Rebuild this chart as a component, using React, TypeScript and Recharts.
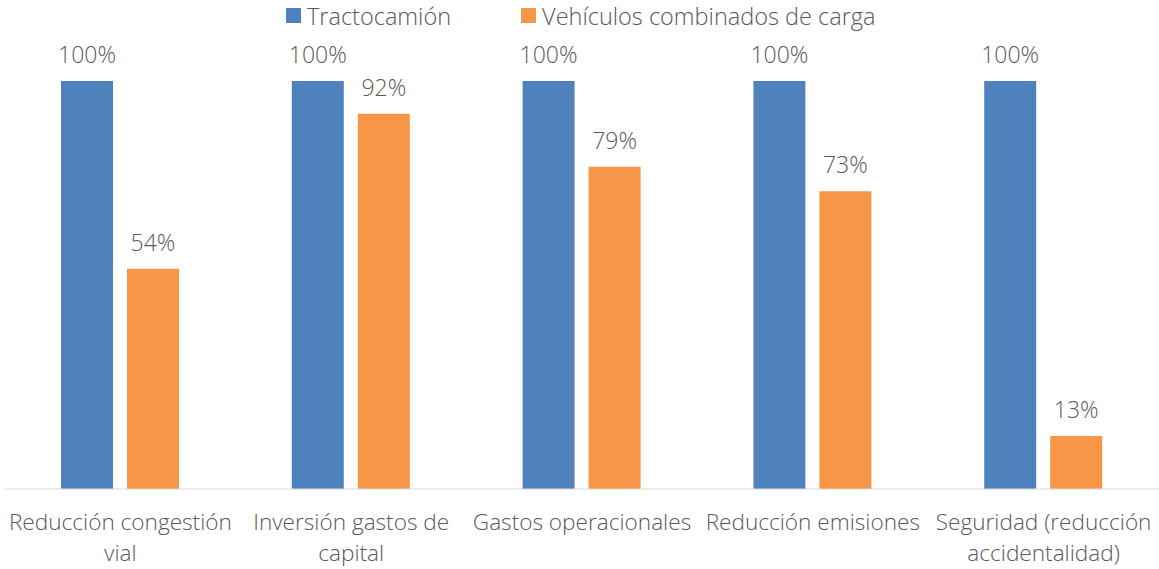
import { BarChart, Bar, XAxis, YAxis, LabelList } from 'recharts';

const categories = [
  'Reducción congestión vial',
  'Inversión gastos de capital',
  'Gastos operacionales',
  'Reducción emisiones',
  'Seguridad (reducción accidentalidad)',
];

// how each category label wraps under the axis
const tickLines = [
  ['Reducción congestión', 'vial'],
  ['Inversión gastos de', 'capital'],
  ['Gastos operacionales'],
  ['Reducción emisiones'],
  ['Seguridad (reducción', 'accidentalidad)'],
];

const tractocamion = [1, 1, 1, 1, 1];
const combinados = [0.54, 0.92, 0.79, 0.73, 0.13];

const seriesNames = ['Tractocamión', 'Vehículos combinados de carga'];
const seriesColors = ['#4F81BD', '#F79646'];

const data = categories.map((name, i) => ({
  name,
  tracto: tractocamion[i],
  vcc: combinados[i],
}));

const FONT = "'Open Sans', Lato, sans-serif";
const TEXT = '#595959';

function pct(v: number) {
  return `${Math.round(v * 100)}%`;
}

function CategoryTick(props: any) {
  const { x, y, payload } = props;
  const lines = tickLines[payload.index] ?? [payload.value];
  return (
    <text
      x={x}
      y={y}
      textAnchor="middle"
      fill={TEXT}
      fontSize={22.6}
      fontWeight={300}
      fontFamily={FONT}
    >
      {lines.map((line, i) => (
        <tspan key={i} x={x} dy={i === 0 ? 41 : 31}>
          {line}
        </tspan>
      ))}
    </text>
  );
}

export default function App() {
  return (
    <div style={{ position: 'absolute', left: 0, top: 0, width: 1159, height: 569, background: '#fff' }}>
      <div
        style={{
          position: 'absolute',
          top: 0,
          left: 286,
          display: 'flex',
          alignItems: 'center',
          height: 31,
          fontFamily: FONT,
          fontWeight: 300,
          fontSize: 23.5,
          color: TEXT,
        }}
      >
        {seriesNames.map((s, i) => (
          <div key={s} style={{ display: 'flex', alignItems: 'center', marginRight: i === 0 ? 70 : 0 }}>
            <span style={{ width: 15, height: 15, background: seriesColors[i], marginRight: 6, display: 'inline-block' }} />
            <span>{s}</span>
          </div>
        ))}
      </div>
      <BarChart
        width={1159}
        height={569}
        data={data}
        margin={{ top: 81, right: 0, left: 5, bottom: 0 }}
        barSize={52}
        barGap={14}
      >
        <XAxis
          dataKey="name"
          height={80}
          stroke="#D9D9D9"
          tickLine={false}
          tickSize={0}
          tickMargin={0}
          interval={0}
          tick={<CategoryTick />}
        />
        <YAxis hide domain={[0, 1]} />
        <Bar dataKey="tracto" name={seriesNames[0]} fill={seriesColors[0]} isAnimationActive={false}>
          <LabelList
            dataKey="tracto"
            position="top"
            offset={18}
            formatter={(v: any) => pct(Number(v))}
            fill={TEXT}
            fontSize={23}
            fontWeight={300}
            fontFamily={FONT}
          />
        </Bar>
        <Bar dataKey="vcc" name={seriesNames[1]} fill={seriesColors[1]} isAnimationActive={false}>
          <LabelList
            dataKey="vcc"
            position="top"
            offset={18}
            formatter={(v: any) => pct(Number(v))}
            fill={TEXT}
            fontSize={23}
            fontWeight={300}
            fontFamily={FONT}
          />
        </Bar>
      </BarChart>
    </div>
  );
}
